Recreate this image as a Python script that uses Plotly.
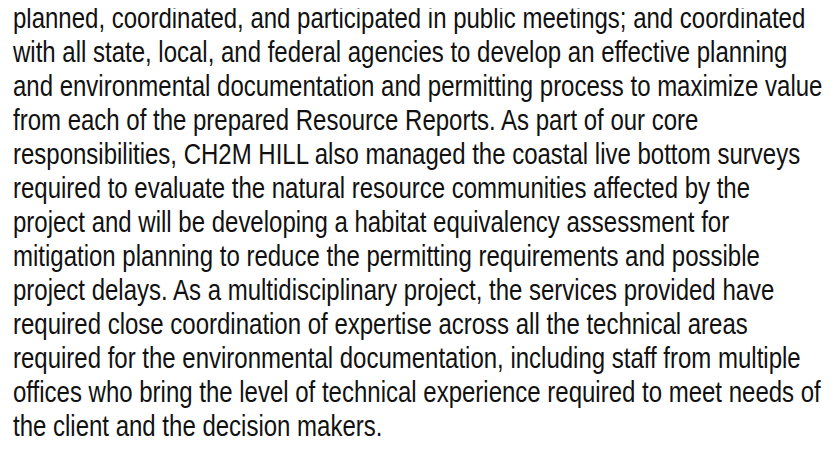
import plotly.graph_objects as go

lines = [
    "planned, coordinated, and participated in public meetings; and coordinated",
    "with all state, local, and federal agencies to develop an effective planning",
    "and environmental documentation and permitting process to maximize value",
    "from each of the prepared Resource Reports. As part of our core",
    "responsibilities, CH2M HILL also managed the coastal live bottom surveys",
    "required to evaluate the natural resource communities affected by the",
    "project and will be developing a habitat equivalency assessment for",
    "mitigation planning to reduce the permitting requirements and possible",
    "project delays. As a multidisciplinary project, the services provided have",
    "required close coordination of expertise across all the technical areas",
    "required for the environmental documentation, including staff from multiple",
    "offices who bring the level of technical experience required to meet needs of",
    "the client and the decision makers.",
]

W, H = 838, 451
left = 5
first_baseline = 28
spacing = 34
fsize = 30
squeeze = 0.80  # emulate a condensed (Arial Narrow-like) face

fig = go.Figure()
fig.add_trace(go.Scatter(
    x=[left] * len(lines),
    y=[first_baseline + i * spacing for i in range(len(lines))],
    mode="text",
    text=lines,
    textposition="top right",
    textfont=dict(family="Liberation Sans Narrow, Arial Narrow, Liberation Sans, Arial", size=fsize, color="#111111"),
    hoverinfo="skip",
    showlegend=False,
))
fig.update_layout(
    width=W, height=H,
    margin=dict(l=0, r=0, t=0, b=0),
    paper_bgcolor="white", plot_bgcolor="white",
    xaxis=dict(range=[0, W], visible=False, fixedrange=True),
    yaxis=dict(range=[H, 0], visible=False, fixedrange=True),
)

post = """
var gd = document.getElementById('{plot_id}');
function squeezeText(){
  gd.querySelectorAll('g.textpoint text').forEach(function(t){
    var x = parseFloat(t.getAttribute('x'));
    t.setAttribute('transform', 'translate(' + x + ',0) scale(%s,1) translate(' + (-x) + ',0)');
  });
}
squeezeText();
gd.on('plotly_afterplot', squeezeText);
""" % squeeze

fig.write_html("out.html", post_script=post, config={"staticPlot": True})
